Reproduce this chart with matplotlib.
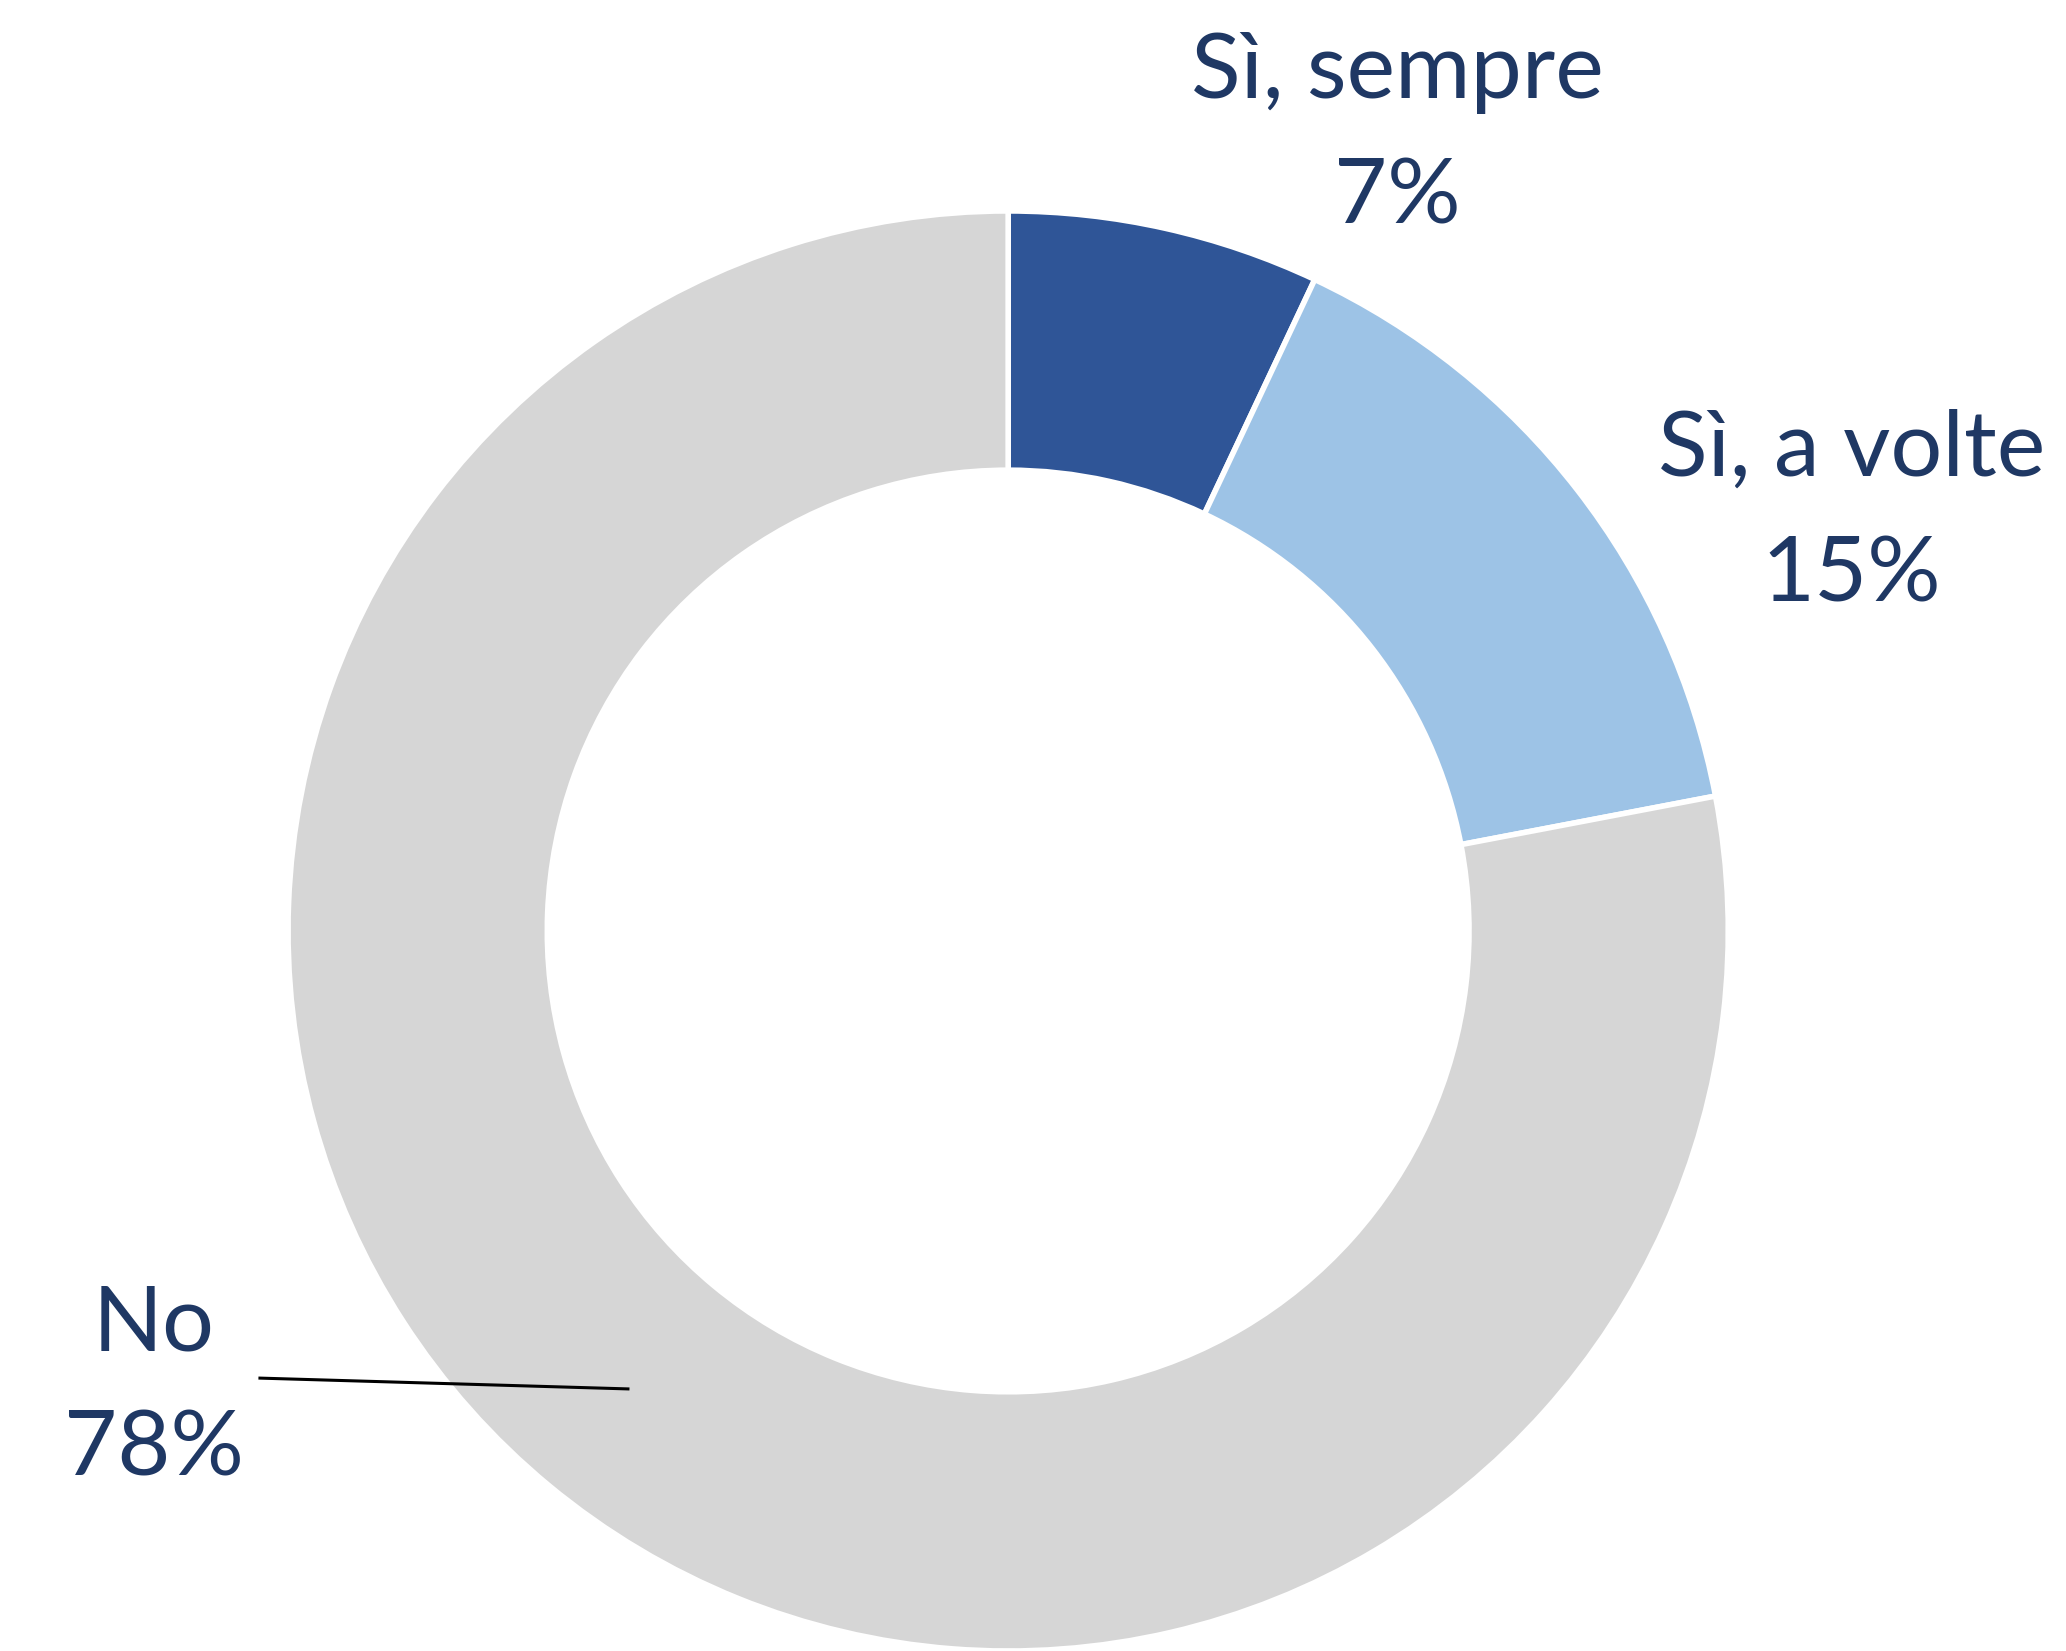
import matplotlib.pyplot as plt

# data
labels = ["Sì, sempre", "Sì, a volte", "No"]
values = [7, 15, 78]
colors = ["#2F5597", "#9DC3E6", "#D6D6D6"]

# label positions (data units, pie radius = 1)
label_pos = [(0.54, 1.105), (1.171, 0.58), (-1.186, -0.634)]
text_color = "#1F3864"

plt.rcParams['font.family'] = ['Lato', 'DejaVu Sans']

fig = plt.figure(figsize=(20.66, 16.51), dpi=100)
ax = fig.add_axes([0, 0, 1, 1])

ax.pie(values, colors=colors, startangle=90, counterclock=False,
       radius=1.0, wedgeprops=dict(width=0.36, edgecolor="white", linewidth=4))

for lab, v, (x, y) in zip(labels, values, label_pos):
    ax.text(x, y, f"{lab}\n{v}%", ha="center", va="center", fontsize=66,
            color=text_color, linespacing=1.64)

# leader line for the "No" label
ax.plot([-1.039, -0.528], [-0.621, -0.636], color="black", lw=2.2)

ax.set_xlim(-1.4, 1.469)
ax.set_ylim(-1.0, 1.293)
ax.set_aspect("auto")
ax.axis("off")

fig.savefig("out.png", dpi=100, facecolor="white")
